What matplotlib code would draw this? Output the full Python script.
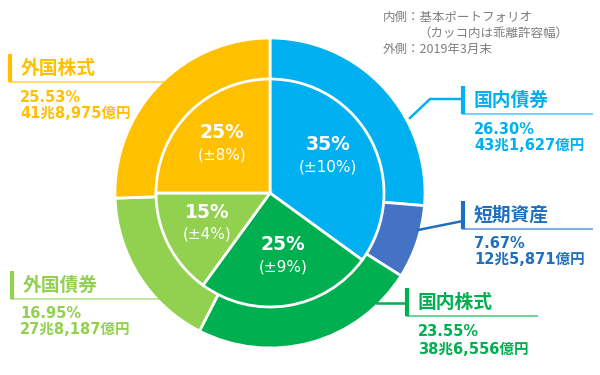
import matplotlib
matplotlib.use("Agg")
import matplotlib.pyplot as plt

plt.rcParams['font.family'] = ['Noto Sans CJK JP', 'DejaVu Sans']

# 外側：2019年3月末の実績
outer_names = ['国内債券', '短期資産', '国内株式', '外国債券', '外国株式']
outer_pct = [26.30, 7.67, 23.55, 16.95, 25.53]
outer_amount = ['43兆1,627億円', '12兆5,871億円', '38兆6,556億円', '27兆8,187億円', '41兆8,975億円']
outer_colors = ['#00B0F0', '#4472C4', '#00B050', '#92D050', '#FFC000']
text_colors = ['#00B0F0', '#1F6FBF', '#00B050', '#92D050', '#FFC000']

# 内側：基本ポートフォリオ
inner_pct = [35, 25, 15, 25]
inner_dev = [10, 9, 4, 8]
inner_colors = ['#00B0F0', '#00B050', '#92D050', '#FFC000']

W, H = 600, 375
cx, cy = 270, 193
R_out, R_in = 155, 114


def Y(y):
    return H - y


fig = plt.figure(figsize=(6, 3.75), dpi=100)
ax = fig.add_axes([0, 0, 1, 1])

ax.pie(outer_pct, colors=outer_colors, radius=R_out, center=(cx, Y(cy)),
       startangle=90, counterclock=False,
       wedgeprops=dict(edgecolor='white', linewidth=2))
ax.pie(inner_pct, colors=inner_colors, radius=R_in, center=(cx, Y(cy)),
       startangle=90, counterclock=False,
       wedgeprops=dict(edgecolor='white', linewidth=2))

# 内側のラベル
inner_pos = [(328, 155), (283, 255), (207, 222), (222, 143)]
for (x, y), p, d in zip(inner_pos, inner_pct, inner_dev):
    ax.text(x, Y(y - 10), f'{p}%', color='white', fontsize=13.5, fontweight='bold',
            family=['DejaVu Sans'], ha='center', va='center')
    ax.text(x, Y(y + 12), f'(±{d}%)', color='white', fontsize=11,
            family=['DejaVu Sans'], ha='center', va='center')

# 外側のラベル: (バーx, タイトルy, 下線右端, 数値x, 数値y1, 数値y2)
label_pos = {
    '国内債券': (463, 100, 592, 474, 129, 145),
    '短期資産': (463, 215, 592, 474, 243, 260),
    '国内株式': (407, 302, 537, 418, 331, 349),
    '外国債券': (12, 285, 163, 20, 313, 330),
    '外国株式': (10, 68, 163, 20, 97, 113),
}
leaders = {
    '国内債券': [(410, 118), (430, 99), (463, 99)],
    '短期資産': [(418, 230), (463, 221)],
    '国内株式': [(377, 303), (407, 303)],
}

for name, pct, amt, tc, wc in zip(outer_names, outer_pct, outer_amount, text_colors, outer_colors):
    bx, ty, ux, nx, n1, n2 = label_pos[name]
    ax.plot([bx, bx], [Y(ty - 14), Y(ty + 14)], color=tc, lw=3, solid_capstyle='butt')
    ax.plot([bx, ux], [Y(ty + 14), Y(ty + 14)], color=tc, lw=1.5, alpha=0.55)
    if name in leaders:
        pts = leaders[name]
        ax.plot([p[0] for p in pts], [Y(p[1]) for p in pts], color=tc, lw=1.8)
    ax.text(bx + 11, Y(ty), name, color=tc, fontsize=13.5, fontweight='bold',
            ha='left', va='center')
    ax.text(nx, Y(n1), f'{pct:.2f}%', color=tc, fontsize=10.5, fontweight='bold',
            family=['DejaVu Sans', 'Noto Sans CJK JP'], ha='left', va='center')
    ax.text(nx, Y(n2), amt, color=tc, fontsize=10.5, fontweight='bold',
            family=['DejaVu Sans', 'Noto Sans CJK JP'], ha='left', va='center')

# 注記
ax.text(383, Y(17), '内側：基本ポートフォリオ', color='#7F7F7F', fontsize=9, va='center')
ax.text(418, Y(33), '（カッコ内は乖離許容幅）', color='#7F7F7F', fontsize=9, va='center')
ax.text(383, Y(49), '外側：2019年3月末', color='#7F7F7F', fontsize=9, va='center')

ax.set_xlim(0, W)
ax.set_ylim(0, H)
ax.set_aspect('auto')
ax.axis('off')

plt.savefig('out.png', dpi=100)
